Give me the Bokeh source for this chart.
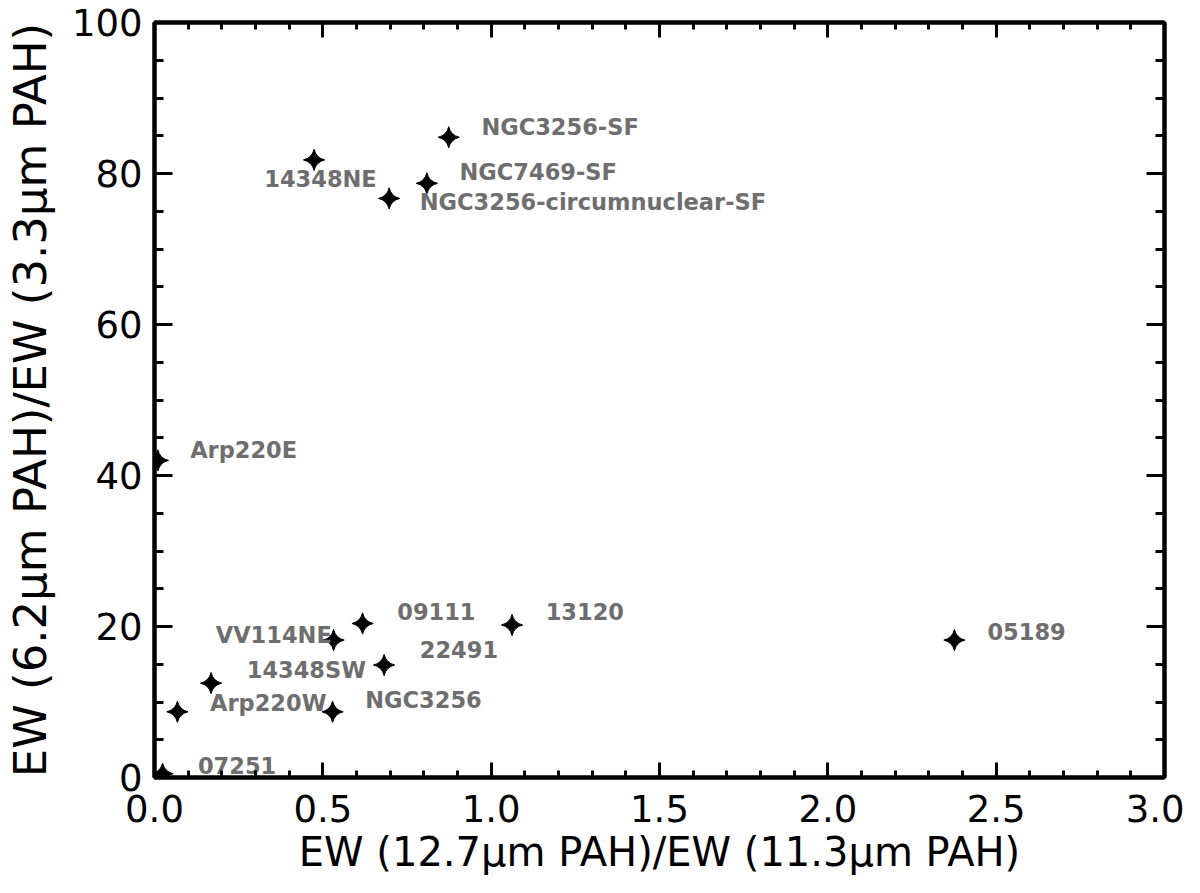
import numpy as np
from bokeh.plotting import figure
from bokeh.models import (LinearAxis, FixedTicker, NumeralTickFormatter,
                          CustomJSTickFormatter, ColumnDataSource)
from bokeh.core.properties import value
from bokeh.embed import file_html
from bokeh.resources import INLINE

# ---- data ----
names = ["14348NE", "NGC3256-SF", "NGC7469-SF", "NGC3256-circumnuclear-SF",
         "Arp220E", "09111", "13120", "VV114NE", "22491", "14348SW",
         "Arp220W", "NGC3256", "05189", "07251"]
ratio_127_113 = [0.474, 0.874, 0.809, 0.697, 0.010, 0.618, 1.062, 0.532,
                 0.682, 0.168, 0.068, 0.529, 2.376, 0.024]
ratio_62_33 = [81.8, 84.8, 78.7, 76.7, 42.0, 20.4, 20.2, 18.2,
               14.9, 12.5, 8.7, 8.7, 18.2, 0.5]
# label anchor positions (data coords, left-middle of text)
label_x = [0.326, 0.971, 0.906, 0.788, 0.106, 0.721, 1.162, 0.182,
           0.788, 0.274, 0.165, 0.626, 2.474, 0.129]
label_y = [79.3, 86.2, 80.2, 76.2, 43.4, 22.0, 22.0, 18.9,
           16.9, 14.2, 9.9, 10.3, 19.4, 1.55]

x_major = [0.0, 0.5, 1.0, 1.5, 2.0, 2.5, 3.0]
x_minor = [round(i * 0.1, 1) for i in range(31)]
y_major = [0, 20, 40, 60, 80, 100]
y_minor = list(range(0, 101, 5))

FONT = "DejaVu Sans"

p = figure(width=1184, height=877, x_range=(0, 3), y_range=(0, 100),
           output_backend="svg", toolbar_location=None,
           min_border_left=140, min_border_right=20, min_border_top=22,
           min_border_bottom=4)
p.grid.visible = False
p.outline_line_color = "black"
p.outline_line_width = 4
p.background_fill_color = "white"
p.border_fill_color = "white"

def style(ax, major_len, minor_len):
    ax.axis_line_width = 4
    ax.axis_line_color = "black"
    ax.major_tick_in = major_len
    ax.major_tick_out = 0
    ax.minor_tick_in = minor_len
    ax.minor_tick_out = 0
    ax.major_tick_line_width = 3
    ax.minor_tick_line_width = 3
    ax.major_tick_line_color = "black"
    ax.minor_tick_line_color = "black"
    ax.major_label_text_font = FONT
    ax.major_label_text_font_size = "37px"
    ax.major_label_text_color = "black"
    ax.axis_label_text_font = FONT
    ax.axis_label_text_font_style = "normal"
    ax.axis_label_text_color = "black"

xt = FixedTicker(ticks=x_major, minor_ticks=x_minor)
yt = FixedTicker(ticks=y_major, minor_ticks=y_minor)

xa = p.xaxis[0]
xa.ticker = xt
xa.formatter = NumeralTickFormatter(format="0.0")
style(xa, 15, 7)
xa.axis_label = "EW (12.7μm PAH)/EW (11.3μm PAH)"
xa.axis_label_text_font_size = "40px"
xa.major_label_standoff = 17
xa.axis_label_standoff = 4

ya = p.yaxis[0]
ya.ticker = yt
style(ya, 18, 9)
ya.axis_label = "EW (6.2μm PAH)/EW (3.3μm PAH)"
ya.axis_label_text_font_size = "45px"
ya.major_label_standoff = 12
ya.axis_label_standoff = 12

blank = CustomJSTickFormatter(code="return ''")
top = LinearAxis(ticker=xt, formatter=blank)
style(top, 15, 7)
top.major_label_text_font_size = "0px"
top.major_label_standoff = 0
p.add_layout(top, "above")
right = LinearAxis(ticker=yt, formatter=blank)
style(right, 18, 9)
right.major_label_text_font_size = "0px"
right.major_label_standoff = 0
p.add_layout(right, "right")

src = ColumnDataSource(dict(x=ratio_127_113, y=ratio_62_33, name=names,
                            lx=label_x, ly=label_y))
p.scatter("x", "y", source=src, marker="square_pin", size=15,
          angle=np.pi / 4, fill_color="black", line_color="black",
          line_width=1)
p.text("lx", "ly", text="name", source=src, text_align="left",
       text_baseline="middle", text_color="#6e6e6e",
       text_font=value(FONT), text_font_style="bold",
       text_font_size="22.5px")

open("out.html", "w").write(file_html(p, INLINE))
